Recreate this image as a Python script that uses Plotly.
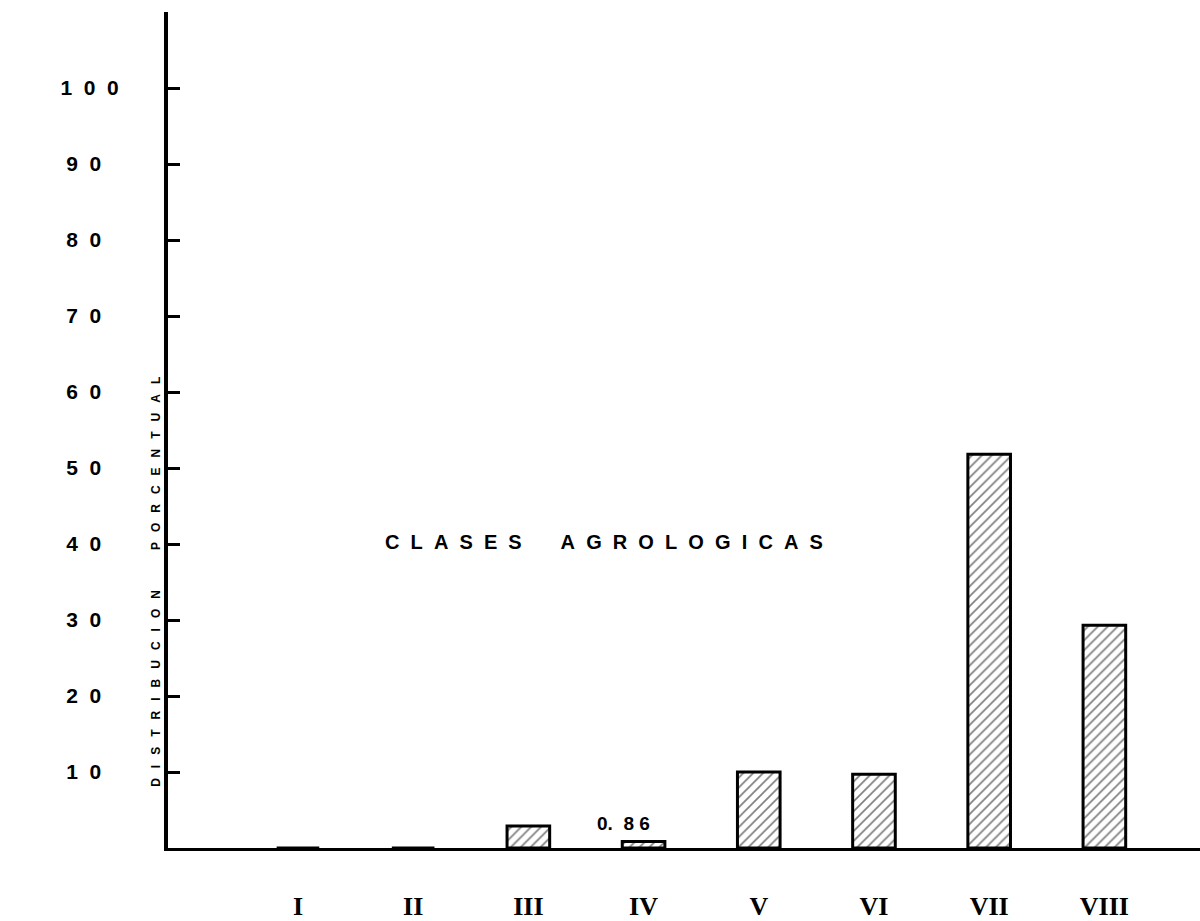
import plotly.graph_objects as go

# Agrological classes and their percentage share of the surveyed area
classes = ["I", "II", "III", "IV", "V", "VI", "VII", "VIII"]
percent = [0, 0, 2.9, 0.86, 10.0, 9.7, 51.8, 29.3]

y_ticks = [10, 20, 30, 40, 50, 60, 70, 80, 90, 100]

NB = "\u00a0"


def spaced(text, gap=NB, word_gap=NB * 5):
    """Typewriter-style letter spacing."""
    return word_gap.join(gap.join(word) for word in text.split(" "))


def tick_text(v, width=3):
    """Spaced digits, padded on the right for shorter labels."""
    s = str(v)
    pad = (width - len(s)) * NB * 3
    return "<b>" + (NB * 2).join(s) + pad + "</b>"


x_pos = list(range(len(classes)))

fig = go.Figure()
fig.add_trace(go.Bar(
    x=x_pos,
    y=percent,
    width=0.37,
    marker=dict(
        color="white",
        line=dict(color="black", width=3),
        pattern=dict(shape="/", fgcolor="black", bgcolor="white",
                     size=7, solidity=0.24),
    ),
    showlegend=False,
    hoverinfo="skip",
))

# value note for class IV
iv = classes.index("IV")
whole, frac = f"{percent[iv]:.2f}".split(".")
note = "<b>" + whole + "." + NB * 2 + NB.join(frac) + "</b>"
fig.add_annotation(
    x=iv - 0.17, y=percent[iv], yshift=18,
    text=note,
    showarrow=False,
    font=dict(family="Liberation Sans", size=19, color="black"),
)

# title inside the plot area
fig.add_annotation(
    x=0.208, y=40.3, xref="paper", yref="y",
    xanchor="left", yanchor="middle",
    text="<b>" + spaced("CLASES AGROLOGICAS", gap=NB * 2, word_gap=NB * 7) + "</b>",
    showarrow=False,
    font=dict(family="Liberation Sans", size=20, color="black"),
)

# rotated axis title between tick labels and axis line
fig.add_annotation(
    x=-0.011, y=0.318, xref="paper", yref="paper",
    xanchor="center", yanchor="middle",
    textangle=-90,
    text="<b>" + spaced("DISTRIBUCION PORCENTUAL", gap=NB * 3, word_gap=NB * 12) + "</b>",
    showarrow=False,
    font=dict(family="Liberation Sans", size=12, color="black"),
)

fig.update_xaxes(
    range=[-1.128, 7.83],
    tickmode="array",
    tickvals=x_pos,
    ticktext=["<b>" + c + "</b>" for c in classes],
    tickfont=dict(family="Liberation Serif", size=26, color="black"),
    ticks="",
    ticklabelstandoff=33,
    automargin=False,
    showline=True, linecolor="black", linewidth=3,
    showgrid=False, zeroline=False,
)
fig.update_yaxes(
    range=[0, 110],
    tickmode="array",
    tickvals=y_ticks,
    ticktext=[tick_text(v) for v in y_ticks],
    tickfont=dict(family="Liberation Sans", size=21, color="black"),
    ticks="inside", ticklen=12, tickwidth=3, tickcolor="black",
    ticklabelstandoff=41,
    automargin=False,
    showline=True, linecolor="black", linewidth=4,
    showgrid=False, zeroline=False,
)

fig.update_layout(
    width=1200, height=921,
    margin=dict(l=168, r=0, t=12, b=73),
    paper_bgcolor="white", plot_bgcolor="white",
)

fig.write_html("out.html")
